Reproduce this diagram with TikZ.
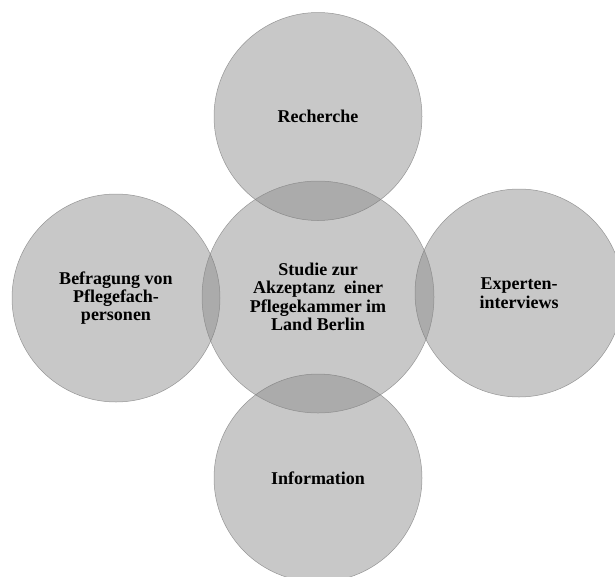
\documentclass[tikz,border=0pt]{standalone}
\usepackage{fontspec}
\setmainfont{Liberation Serif}
\usepackage{tikz}
\definecolor{kreisgrau}{RGB}{134,134,134}
\definecolor{randgrau}{RGB}{120,120,120}
\tikzset{
	kreis/.style={circle, minimum size=208pt, inner sep=0pt, fill=kreisgrau, fill opacity=0.45, draw=randgrau, draw opacity=0.7, line width=0.5pt, text opacity=1, align=center, font=\bfseries\fontsize{18}{18.4}\selectfont},
	mitte/.style={kreis, minimum size=232pt}
}

\begin{document}
\begin{tikzpicture}[x=1pt,y=-1pt]
			\useasboundingbox (0,0) rectangle (615,576);
			\node[mitte] (studie) at (318,297) {Studie zur\\Akzeptanz\ \ einer\\Pflegekammer im\\Land Berlin};
			\node[kreis] (recherche) at (318,116.5) {Recherche};
			\node[kreis] (befragung) at (116,298) {Befragung von\\Pflegefach-\\personen};
			\node[kreis] (experten) at (519,293) {Experten-\\interviews};
			\node[kreis] (information) at (318,478) {Information};
		\end{tikzpicture}
\end{document}
